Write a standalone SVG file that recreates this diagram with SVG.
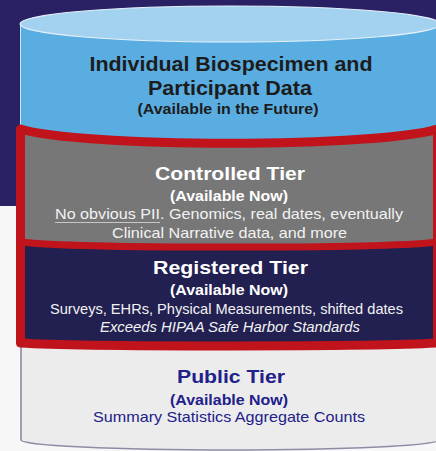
<svg xmlns="http://www.w3.org/2000/svg" width="436" height="451" viewBox="0 0 436 451">
  <defs>
    <style>
      text { font-family: "Liberation Sans", Arial, sans-serif; text-anchor: middle; }
      .b { font-weight: bold; }
      .dark { fill: #1c1c1c; }
      .white { fill: #ffffff; }
      .soft { fill: #f2f2f2; }
      .pub { fill: #22208a; }
    </style>
  </defs>

  <!-- background -->
  <rect x="0" y="0" width="436" height="451" fill="#f7f7f7"/>
  <rect x="0" y="0" width="436" height="206" fill="#2a2165"/>

  <!-- top tier: Individual Biospecimen -->
  <g id="biospecimen-tier">
    <rect x="20" y="24" width="420" height="140" fill="#5aade0"/>
    <line x1="20.5" y1="24" x2="20.5" y2="140" stroke="#cfe6f6" stroke-width="1"/>
    <ellipse cx="230" cy="24" rx="210" ry="18" fill="#a3d2f0" stroke="#e4f1fa" stroke-width="1.2"/>
    <text class="b dark" x="231" y="71" font-size="21" textLength="283" lengthAdjust="spacingAndGlyphs">Individual Biospecimen and</text>
    <text class="b dark" x="230" y="95" font-size="21" textLength="164" lengthAdjust="spacingAndGlyphs">Participant Data</text>
    <text class="b dark" x="228" y="114" font-size="15" textLength="181" lengthAdjust="spacingAndGlyphs">(Available in the Future)</text>
  </g>

  <!-- public tier -->
  <g id="public-tier">
    <path d="M21,336 L21,440 A209,10 0 0 0 439,440 L439,336 Z" fill="#ececec"/>
    <path d="M21,346 L21,440 A209,10 0 0 0 439,440" fill="none" stroke="#8c8ca6" stroke-width="1.6"/>
    <text class="b pub" x="231" y="383" font-size="19" textLength="108" lengthAdjust="spacingAndGlyphs">Public Tier</text>
    <text class="b pub" x="229" y="405" font-size="14.5" textLength="118" lengthAdjust="spacingAndGlyphs">(Available Now)</text>
    <text class="pub" x="229" y="422" font-size="14.5" textLength="272" lengthAdjust="spacingAndGlyphs">Summary Statistics Aggregate Counts</text>
  </g>

  <!-- controlled tier -->
  <g id="controlled-tier">
    <path d="M20.5,129 A216.5,19.5 0 0 0 437.5,129 L437.5,242 A216.5,7 0 0 1 20.5,242 Z" fill="#777777"/>
    <text class="b white" x="230" y="180" font-size="19" textLength="150" lengthAdjust="spacingAndGlyphs">Controlled Tier</text>
    <text class="b white" x="229" y="201" font-size="14.5" textLength="118" lengthAdjust="spacingAndGlyphs">(Available Now)</text>
    <text class="soft" x="229" y="219" font-size="14.5" textLength="348" lengthAdjust="spacingAndGlyphs">No obvious PII. Genomics, real dates, eventually</text>
    <line x1="55" y1="222.5" x2="160" y2="222.5" stroke="#c8c8c8" stroke-width="1"/>
    <text class="soft" x="229.5" y="238" font-size="14.5" textLength="235" lengthAdjust="spacingAndGlyphs">Clinical Narrative data, and more</text>
  </g>

  <!-- registered tier -->
  <g id="registered-tier">
    <path d="M20.5,242 A216.5,7 0 0 0 437.5,242 L437.5,343 A216.5,4 0 0 1 20.5,343 Z" fill="#222050"/>
    <text class="b white" x="230.5" y="274" font-size="19" textLength="155" lengthAdjust="spacingAndGlyphs">Registered Tier</text>
    <text class="b white" x="229" y="295" font-size="14.5" textLength="118" lengthAdjust="spacingAndGlyphs">(Available Now)</text>
    <text class="soft" x="226.5" y="314" font-size="14.5" textLength="353" lengthAdjust="spacingAndGlyphs">Surveys, EHRs, Physical Measurements, shifted dates</text>
    <text class="soft" x="230" y="332" font-size="14.5" font-style="italic" textLength="260" lengthAdjust="spacingAndGlyphs">Exceeds HIPAA Safe Harbor Standards</text>
  </g>

  <!-- red frame around controlled + registered tiers -->
  <g id="access-frame" fill="none" stroke="#c0131b" stroke-linejoin="round">
    <path d="M20.5,129 A216.5,19.5 0 0 0 437.5,129 L437.5,343 A216.5,4 0 0 1 20.5,343 Z" stroke-width="9"/>
    <path d="M20.5,242 A216.5,7 0 0 0 437.5,242" stroke-width="7"/>
  </g>
</svg>
